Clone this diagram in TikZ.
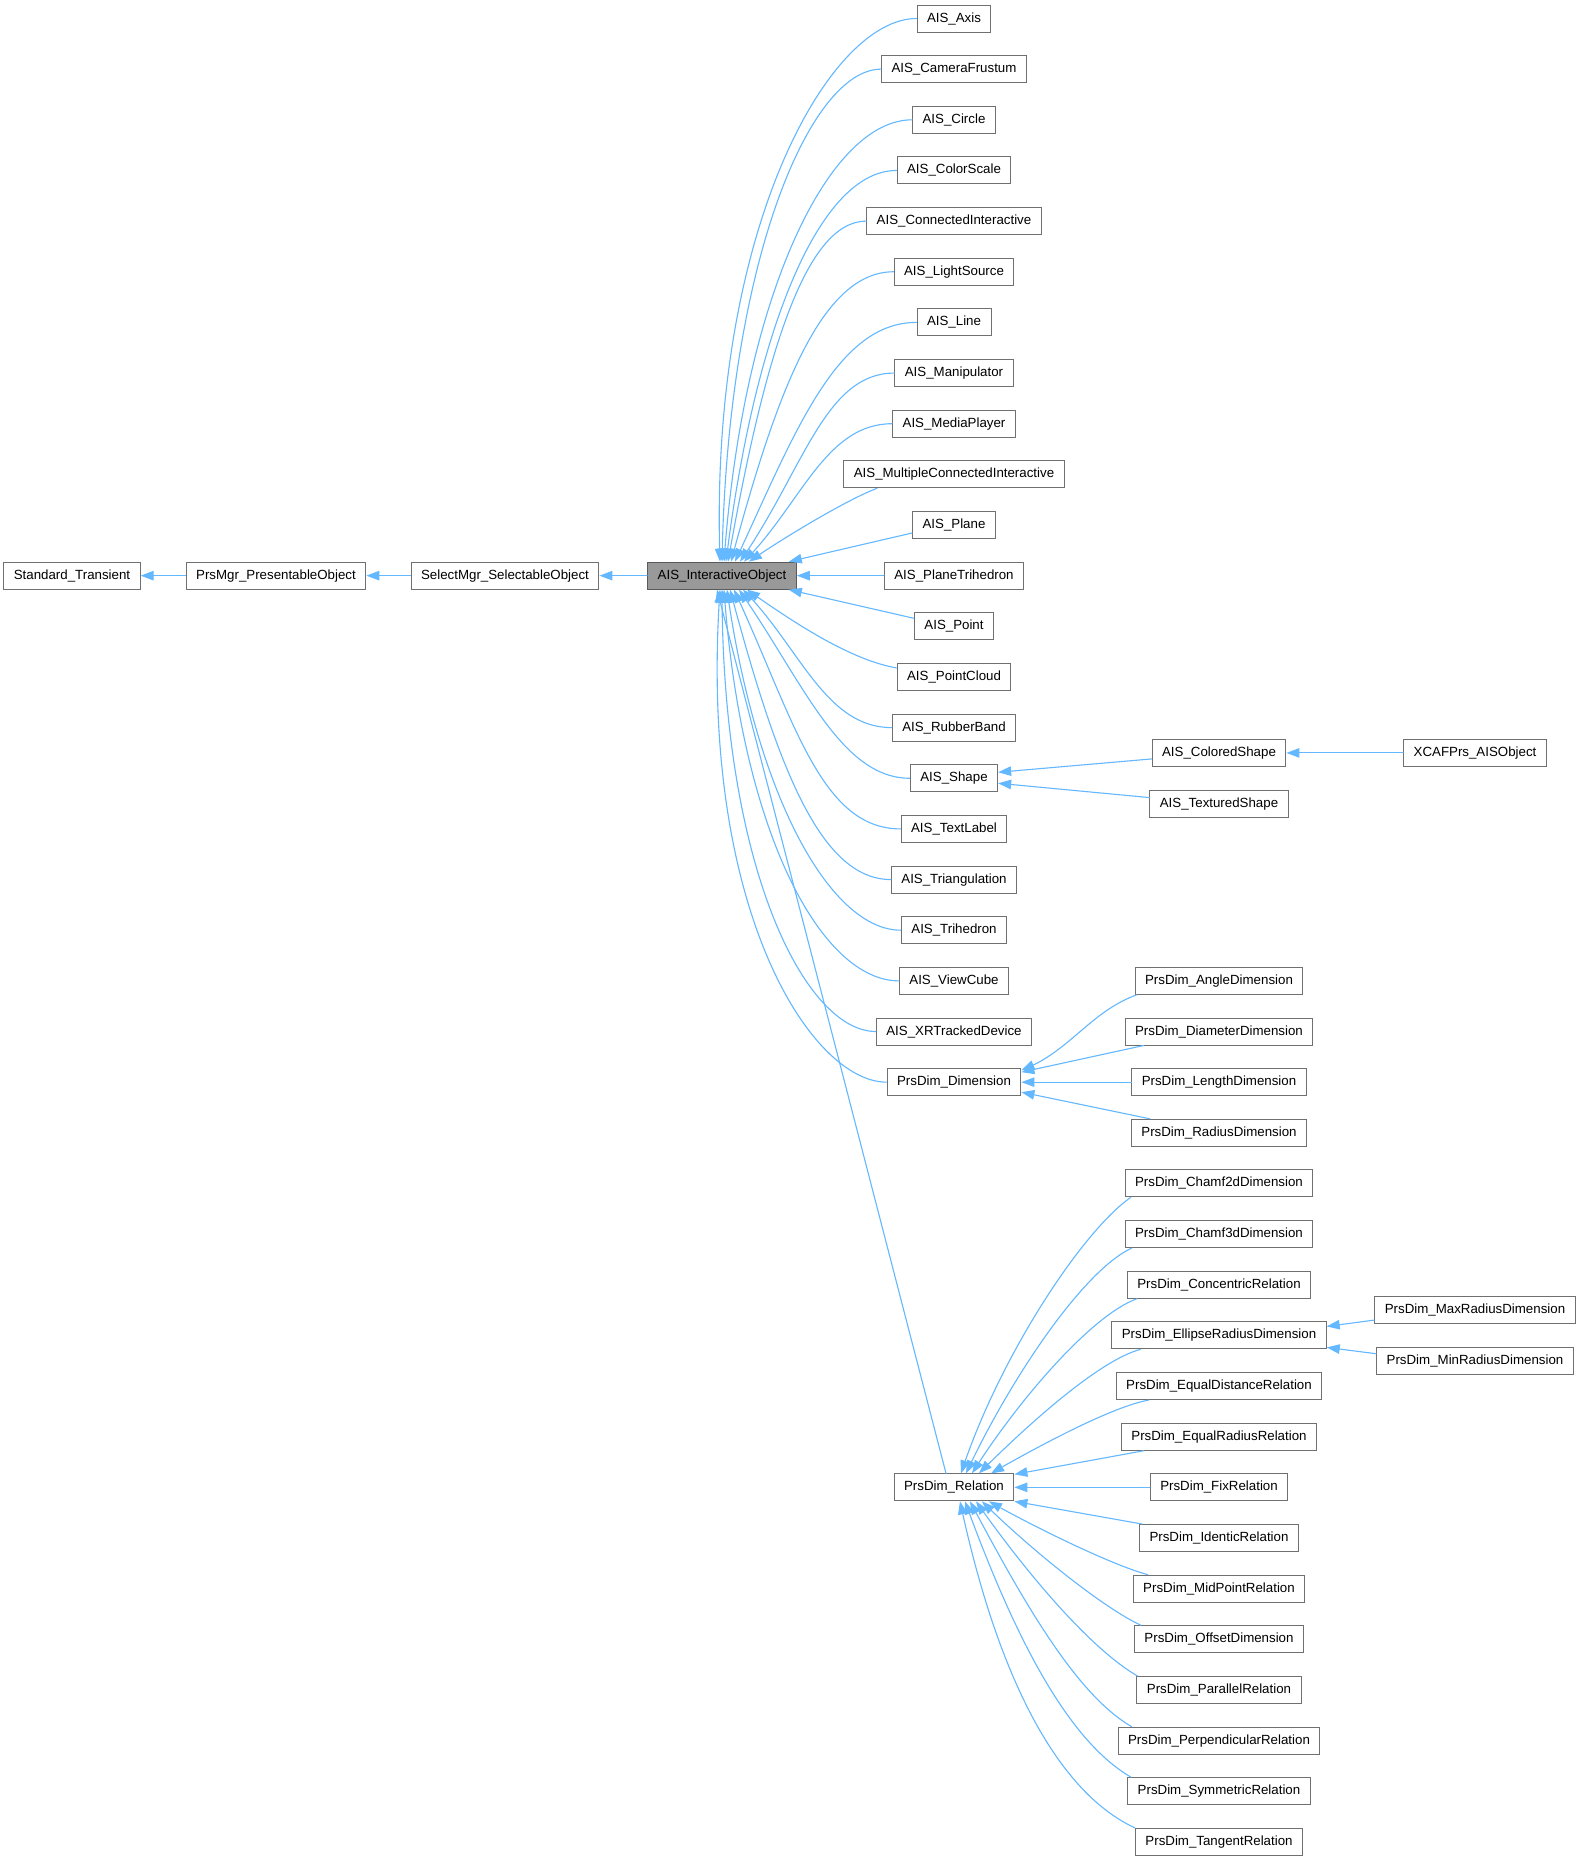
\documentclass[tikz,border=0pt]{standalone}
\usepackage{fontspec}
\setmainfont{Liberation Sans}
\usetikzlibrary{arrows.meta, bending}

\definecolor{edgeblue}{HTML}{63B8FF}
\definecolor{boxgray}{HTML}{707070}
\definecolor{rootgray}{HTML}{999999}

\begin{document}
\begin{tikzpicture}
% Style
[
    x=1pt, y=1pt, line cap=round,
    classbox/.style={draw=boxgray, line width=1pt, fill=white, minimum height=27pt,
        inner xsep=10pt, inner ysep=0pt, font=\fontsize{13.3}{16}\selectfont},
    rootbox/.style={classbox, fill=rootgray, draw=boxgray!80!black},
    inherit/.style={draw=edgeblue, line width=1.1pt, -{Triangle[length=13pt, width=9.5pt]}}
]

% Define: Params
\newcommand{\rowy}[1]{-18.5-50.65*#1} %row_y

% Define: Canvas
\fill[white] (0,0) rectangle (1580,-1861);
\useasboundingbox (0,0) rectangle (1580,-1861);

%================================== Nodes ==================================
{
    % Draw: Base chain
    \node[classbox] (stdtrans) at (72, {\rowy{11}}) {Standard\_Transient};
    \node[classbox] (prsmgr) at (276, {\rowy{11}}) {PrsMgr\_PresentableObject};
    \node[classbox] (selmgr) at (505, {\rowy{11}}) {SelectMgr\_SelectableObject};
    \node[rootbox] (iobj) at (722, {\rowy{11}}) {AIS\_InteractiveObject};

    % Draw: Direct children
    \foreach \nm/\txt/\r in {axis/AIS\_Axis/0, frustum/AIS\_CameraFrustum/1,
        circ/AIS\_Circle/2, colorscale/AIS\_ColorScale/3,
        connected/AIS\_ConnectedInteractive/4, lightsrc/AIS\_LightSource/5,
        aisline/AIS\_Line/6, manip/AIS\_Manipulator/7, mediaplayer/AIS\_MediaPlayer/8,
        multiconn/AIS\_MultipleConnectedInteractive/9, plane/AIS\_Plane/10,
        planetri/AIS\_PlaneTrihedron/11, point/AIS\_Point/12, pointcloud/AIS\_PointCloud/13,
        rubberband/AIS\_RubberBand/14, aisshape/AIS\_Shape/15, textlabel/AIS\_TextLabel/16,
        triang/AIS\_Triangulation/17, trihedron/AIS\_Trihedron/18, viewcube/AIS\_ViewCube/19,
        xrdevice/AIS\_XRTrackedDevice/20, dimension/PrsDim\_Dimension/21,
        relation/PrsDim\_Relation/29} {
        \node[classbox] (\nm) at (954, {\rowy{\r}}) {\txt};
    }

    % Draw: Grandchildren
    \foreach \nm/\txt/\r in {colored/AIS\_ColoredShape/14.5, textured/AIS\_TexturedShape/15.5,
        angledim/PrsDim\_AngleDimension/19, diamdim/PrsDim\_DiameterDimension/20,
        lengthdim/PrsDim\_LengthDimension/21, radiusdim/PrsDim\_RadiusDimension/22,
        chamftwo/PrsDim\_Chamf2dDimension/23, chamfthree/PrsDim\_Chamf3dDimension/24,
        concentric/PrsDim\_ConcentricRelation/25, ellipse/PrsDim\_EllipseRadiusDimension/26,
        eqdist/PrsDim\_EqualDistanceRelation/27, eqradius/PrsDim\_EqualRadiusRelation/28,
        fixrel/PrsDim\_FixRelation/29, identic/PrsDim\_IdenticRelation/30,
        midpoint/PrsDim\_MidPointRelation/31, offsetdim/PrsDim\_OffsetDimension/32,
        parallel/PrsDim\_ParallelRelation/33, perpend/PrsDim\_PerpendicularRelation/34,
        symmetric/PrsDim\_SymmetricRelation/35, tangent/PrsDim\_TangentRelation/36} {
        \node[classbox] (\nm) at (1219, {\rowy{\r}}) {\txt};
    }

    % Draw: Leaves
    \node[classbox] (xcaf) at (1475, {\rowy{14.5}}) {XCAFPrs\_AISObject};
    \node[classbox] (maxradius) at (1475, {\rowy{25.5}}) {PrsDim\_MaxRadiusDimension};
    \node[classbox] (minradius) at (1475, {\rowy{26.5}}) {PrsDim\_MinRadiusDimension};
}

%================================== Edges ==================================
{
    % Draw: Base chain
    \draw[inherit] (prsmgr.west) -- (stdtrans.east);
    \draw[inherit] (selmgr.west) -- (prsmgr.east);
    \draw[inherit] (iobj.west) -- (selmgr.east);

    % Draw: Upper fan
    \foreach \nm/\tip/\ang/\da/\db in {axis/-2/92/88/330, frustum/0/89/71/300,
        circ/2/86/84/265, colorscale/4/83/77/235, connected/6/80/62/205,
        lightsrc/9/75/73/174, aisline/13/65/81/140, manip/18/55/70/110,
        mediaplayer/22/45/67/80} {
        \draw[inherit] (\nm.west) to[out=180, in=\ang, out distance=\da, in distance=\db]
            ([xshift=\tip]iobj.north);
    }
    \draw[inherit] ([xshift=-77]multiconn.south) to[out=200, in=35, out distance=30, in distance=40]
        ([xshift=27]iobj.north);
    \draw[inherit] ([yshift=-8]plane.west) -- ([xshift=-8]iobj.north east);
    \draw[inherit] (planetri.west) -- (iobj.east);
    \draw[inherit] ([yshift=8]point.west) -- ([xshift=-8]iobj.south east);

    % Draw: Lower fan
    \draw[inherit] ([yshift=9]pointcloud.west) to[out=170, in=-35, out distance=50, in distance=50]
        ([xshift=25]iobj.south);
    \foreach \nm/\tip/\ang/\da/\db in {rubberband/21/-45/67/80, aisshape/17/-55/70/110,
        textlabel/12/-65/81/140, triang/8/-75/73/174, trihedron/5/-82/70/210,
        viewcube/2/-86/77/245, xrdevice/0/-90/70/280, dimension/-2/-94/75/320} {
        \draw[inherit] (\nm.west) to[out=180, in=\ang, out distance=\da, in distance=\db]
            ([xshift=\tip]iobj.south);
    }
    \draw[inherit] ([xshift=-8]relation.north) -- ([xshift=-5]iobj.south);

    % Draw: Shape branch
    \draw[inherit] ([yshift=-6]colored.west) -- ([yshift=6]aisshape.east);
    \draw[inherit] ([yshift=6]textured.west) -- ([yshift=-5]aisshape.east);
    \draw[inherit] (xcaf.west) -- (colored.east);

    % Draw: Dimension branch
    \draw[inherit] ([xshift=2]angledim.south west) to[out=200, in=20, out distance=50, in distance=50]
        ([yshift=-2]dimension.north east);
    \draw[inherit] ([xshift=19]diamdim.south west) -- ([yshift=-4]dimension.north east);
    \draw[inherit] (lengthdim.west) -- (dimension.east);
    \draw[inherit] ([xshift=19]radiusdim.north west) -- ([yshift=4]dimension.south east);

    % Draw: Relation branch (upper)
    \foreach \nm/\sh/\aout/\ang/\da/\db/\tip in {chamftwo/6/215/72/60/120/7,
        chamfthree/7/205/65/55/100/12, concentric/10/200/58/50/80/18,
        ellipse/29/195/45/45/60/25, eqdist/33/190/30/40/40/37} {
        \draw[inherit] ([xshift=\sh]\nm.south west) to[out=\aout, in=\ang, out distance=\da, in distance=\db]
            ([xshift=\tip]relation.north);
    }
    \draw[inherit] ([xshift=23]eqradius.south west) -- ([yshift=-1]relation.north east);
    \draw[inherit] (fixrel.west) -- (relation.east);
    \draw[inherit] ([xshift=3]identic.north west) -- (relation.south east);

    % Draw: Relation branch (lower)
    \foreach \nm/\sh/\aout/\ang/\da/\db/\tip in {midpoint/15/165/-30/40/40/35,
        offsetdim/7/155/-45/45/60/28, parallel/1/150/-55/55/85/22,
        perpend/14/150/-62/65/110/16, symmetric/4/150/-70/75/140/11,
        tangent/0/155/-78/90/170/6} {
        \draw[inherit] ([xshift=\sh]\nm.north west) to[out=\aout, in=\ang, out distance=\da, in distance=\db]
            ([xshift=\tip]relation.south);
    }

    % Draw: Ellipse branch
    \draw[inherit] ([yshift=-10]maxradius.west) -- ([yshift=9]ellipse.east);
    \draw[inherit] ([yshift=7]minradius.west) -- ([yshift=-12]ellipse.east);
}
%==================================== END ====================================

\end{tikzpicture}
\end{document}
